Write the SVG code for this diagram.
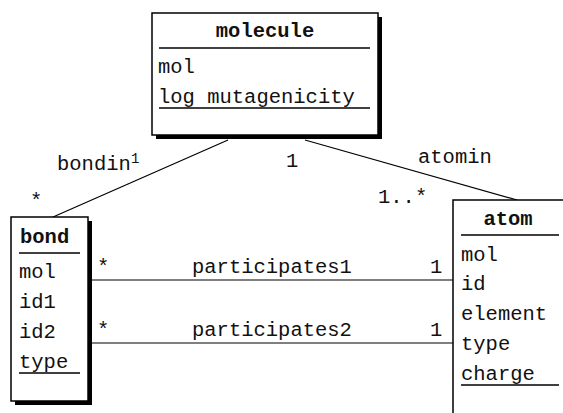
<svg xmlns="http://www.w3.org/2000/svg" width="563" height="413" viewBox="0 0 563 413">
<style>
text{font-family:"Liberation Mono","DejaVu Sans Mono",monospace;font-size:20.5px;fill:#111}
.b{font-weight:bold}
.box{fill:#fff;stroke:#000;stroke-width:1.5}
.sh{fill:#000}
.ln{stroke:#000;stroke-width:1.2;fill:none}
.ul{stroke:#000;stroke-width:1.5}
.sm{font-size:14px}
</style>
<rect width="563" height="413" fill="#fff"/>
<g id="edges">
<line class="ln" x1="228" y1="140" x2="53" y2="217"/>
<line class="ln" x1="305" y1="140" x2="517" y2="200"/>
<line class="ln" x1="92" y1="280" x2="453" y2="280"/>
<line class="ln" x1="92" y1="343" x2="453" y2="343"/>
<text x="57" y="170">bondin</text><text class="sm" x="131" y="163">1</text>
<text x="30" y="207">*</text>
<text x="286" y="167">1</text>
<text x="418" y="163">atomin</text>
<text x="378" y="203">1..*</text>
<text x="97" y="273">*</text>
<text x="192" y="273">participates1</text>
<text x="430" y="273">1</text>
<text x="97" y="336">*</text>
<text x="192" y="336">participates2</text>
<text x="430" y="336">1</text>
</g>
<g id="molecule">
<rect class="sh" x="156" y="17" width="226" height="122"/>
<rect class="box" x="152" y="13" width="226" height="122"/>
<text class="b" x="265" y="37" text-anchor="middle">molecule</text>
<line class="ul" x1="159" y1="48" x2="370" y2="48"/>
<text x="158" y="73">mol</text>
<text x="158" y="103">log mutagenicity</text>
<line class="ul" x1="159" y1="108" x2="370" y2="108"/>
</g>
<g id="bond">
<rect class="sh" x="15" y="221" width="77" height="184"/>
<rect class="box" x="11" y="217" width="77" height="184"/>
<text class="b" x="20" y="243">bond</text>
<line class="ul" x1="19" y1="253" x2="80" y2="253"/>
<text x="19" y="278">mol</text>
<text x="19" y="308">id1</text>
<text x="19" y="338">id2</text>
<text x="19" y="368">type</text>
<line class="ul" x1="19" y1="373" x2="80" y2="373"/>
</g>
<g id="atom">
<rect class="box" x="453" y="200" width="120" height="230"/>
<text class="b" x="508" y="225" text-anchor="middle">atom</text>
<line class="ul" x1="461" y1="235" x2="559" y2="235"/>
<text x="461" y="261">mol</text>
<text x="461" y="290">id</text>
<text x="461" y="320">element</text>
<text x="461" y="350">type</text>
<text x="461" y="380">charge</text>
<line class="ul" x1="461" y1="385" x2="559" y2="385"/>
</g>
</svg>
